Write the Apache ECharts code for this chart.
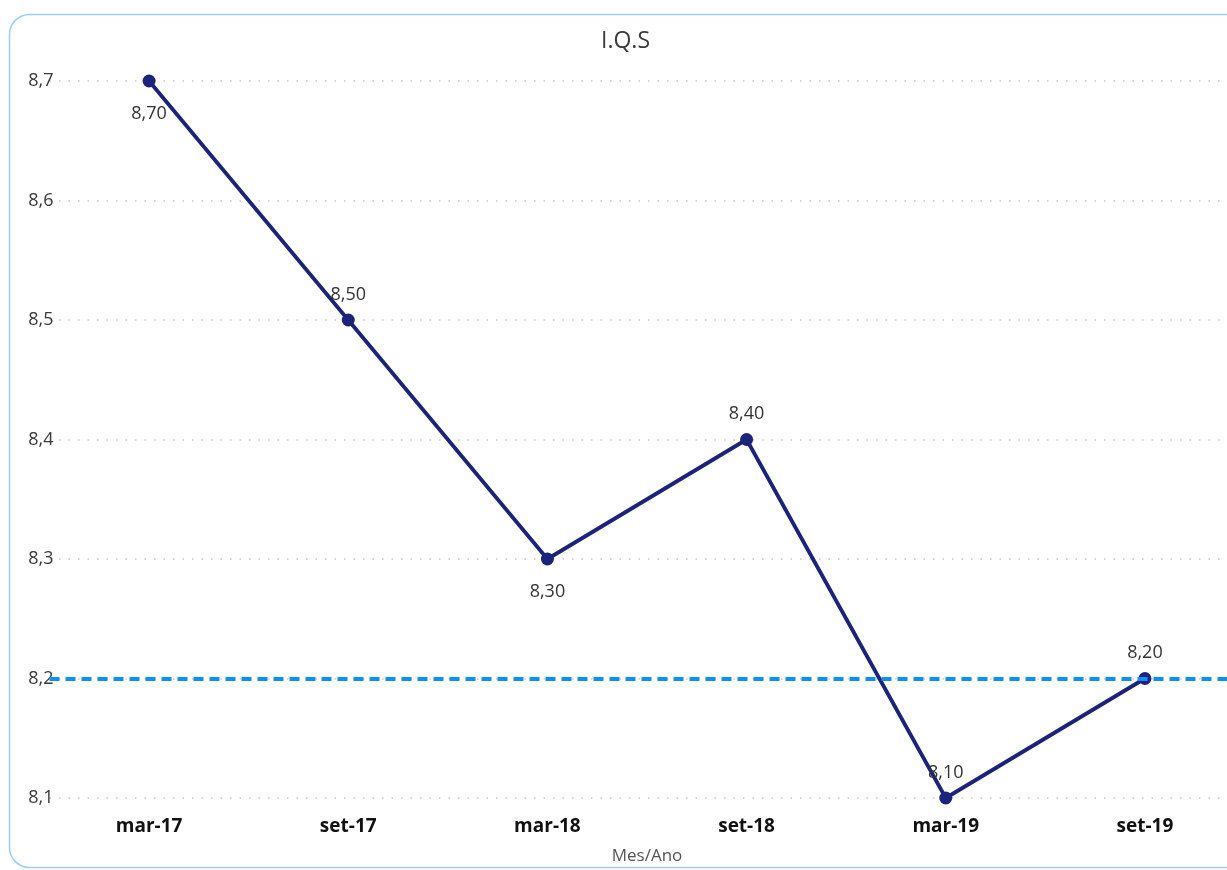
<!DOCTYPE html>
<html lang="en">
<head>
	<meta charset="UTF-8" />
	<script src="https://cdn.jsdelivr.net/npm/echarts@6/dist/echarts.min.js"></script>
	<title>I.Q.S</title>
	<style>
		html, body { margin: 0; padding: 0; background: #fff; }
	</style>
</head>
<body>
	<div id="main" style="width: 1227px; height: 870px"></div>

	<script type="text/javascript">
		// períodos (Mes/Ano)
		const periods = ['mar-17', 'set-17', 'mar-18', 'set-18', 'mar-19', 'set-19'];
		const iqsValues = [8.7, 8.5, 8.3, 8.4, 8.1, 8.2];
		// rótulo em cima ou embaixo do ponto
		const labelPos = ['bottom', 'top', 'bottom', 'top', 'top', 'top'];
		const targetValue = 8.2;
		const yTicks = [8.1, 8.2, 8.3, 8.4, 8.5, 8.6, 8.7];

		const fmt = (v, d) => v.toFixed(d).replace('.', ',');
		const font = '"Open Sans", "DejaVu Sans", sans-serif';

		const chart = echarts.init(document.getElementById('main'));

		const option = {
			animation: false,
			graphic: [
				{
					type: 'rect',
					shape: { x: 9.5, y: 14.5, width: 1240, height: 853, r: 20 },
					style: { fill: 'none', stroke: '#9ccdf8', lineWidth: 1.5 },
					z: -1,
				},
			],
			title: {
				text: 'I.Q.S',
				left: 596,
				top: 25,
				textStyle: {
					fontFamily: font,
					fontSize: 23,
					fontWeight: 'normal',
					color: '#3a3a3a',
				},
			},
			grid: {
				top: 81,
				left: 49.5,
				right: -17.5,
				bottom: 72,
				outerBoundsMode: 'none',
				containLabel: false,
			},
			xAxis: {
				type: 'category',
				data: periods,
				boundaryGap: true,
				axisLine: { show: false },
				axisTick: { show: false },
				axisLabel: {
					margin: 19,
					fontFamily: font,
					fontSize: 19,
					fontWeight: 'bold',
					color: '#111',
				},
				name: 'Mes/Ano',
				nameLocation: 'middle',
				nameGap: 50,
				nameTextStyle: {
					fontFamily: font,
					fontSize: 17,
					color: '#555',
				},
			},
			yAxis: {
				type: 'value',
				min: yTicks[0],
				max: yTicks[yTicks.length - 1],
				interval: 0.1,
				axisLine: { show: false },
				axisTick: { show: false },
				axisLabel: {
					margin: -4,
					fontFamily: font,
					fontSize: 18,
					color: '#3a3a3a',
					formatter: v => fmt(v, 1),
				},
				splitLine: {
					show: true,
					lineStyle: { color: '#c8c8c8', type: [1.5, 8], width: 1.5 },
				},
			},
			series: [
				{
					name: 'I.Q.S',
					type: 'line',
					data: iqsValues.map((v, i) => ({
						value: v,
						label: {
							position: labelPos[i],
							distance: labelPos[i] == 'top' ? 10 : 17,
						},
					})),
					symbol: 'circle',
					symbolSize: 13,
					lineStyle: { color: '#1b237a', width: 3.8 },
					itemStyle: { color: '#1b237a' },
					label: {
						show: true,
						fontFamily: font,
						fontSize: 18,
						color: '#333',
						formatter: p => fmt(p.value, 2),
					},
					markLine: {
						silent: true,
						symbol: 'none',
						label: { show: false },
						lineStyle: { color: '#118dff', width: 3.8, type: [10, 6] },
						data: [{ yAxis: targetValue }],
					},
					z: 3,
				},
			],
		};
		chart.setOption(option);
	</script>
</body>
</html>
